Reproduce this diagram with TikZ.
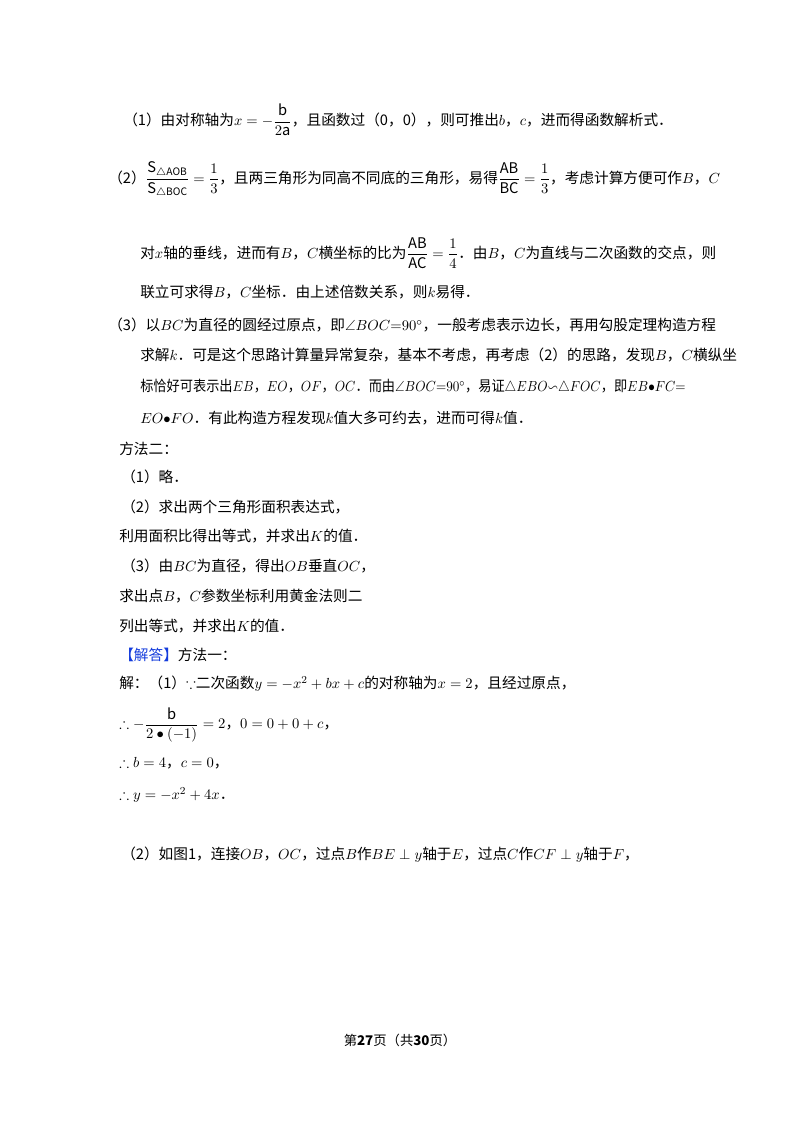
\documentclass[tikz,border=0pt]{standalone}
\usepackage{amsmath,amssymb,graphicx}
\usepackage{fontspec}
\setmainfont{Noto Sans CJK SC}
\definecolor{jblue}{RGB}{20,60,220}
\begin{document}
\begin{tikzpicture}[x=0.75pt,y=-0.75pt,
  ln/.style={anchor=west,inner sep=0pt,font=\fontsize{11}{13}\selectfont}]
\useasboundingbox (0,0) rectangle (800,1132);
\node[ln] (l1) at (123,120) {（1）由对称轴为$x=-\dfrac{\mathrm{b}}{2\mathrm{a}}$，且函数过（0，0），则可推出$b$，$c$，进而得函数解析式．};
\node[ln] (l2) at (108,180) {（2）$\dfrac{\mathrm{S}_{\triangle\mathrm{AOB}}}{\mathrm{S}_{\triangle\mathrm{BOC}}}=\dfrac{1}{3}$，且两三角形为同高不同底的三角形，易得$\dfrac{\mathrm{AB}}{\mathrm{BC}}=\dfrac{1}{3}$，考虑计算方便可作$B$，$C$};
\node[ln] (l3) at (140,253) {对$x$轴的垂线，进而有$B$，$C$横坐标的比为$\dfrac{\mathrm{AB}}{\mathrm{AC}}=\dfrac{1}{4}$．由$B$，$C$为直线与二次函数的交点，则};
\node[ln] (l4) at (140,292) {联立可求得$B$，$C$坐标．由上述倍数关系，则$k$易得．};
\node[ln] (l5) at (108,325) {（3）以$BC$为直径的圆经过原点，即$\angle BOC{=}90^\circ$，一般考虑表示边长，再用勾股定理构造方程};
\node[ln] (l6) at (140,355) {求解$k$．可是这个思路计算量异常复杂，基本不考虑，再考虑（2）的思路，发现$B$，$C$横纵坐};
\node[ln] (l7) at (140,387) {\scalebox{0.9}[1]{标恰好可表示出$EB$，$EO$，$OF$，$OC$．而由$\angle BOC{=}90^\circ$，易证$\triangle EBO{\backsim}\triangle FOC$，即$EB{\bullet}FC{=}$}};
\node[ln] (l8) at (140,418) {$EO{\bullet}FO$．有此构造方程发现$k$值大多可约去，进而可得$k$值．};
\node[ln] (l9) at (119,449) {方法二：};
\node[ln] (l10) at (121,477) {（1）略．};
\node[ln] (l11) at (121,507) {（2）求出两个三角形面积表达式，};
\node[ln] (l12) at (119,536) {利用面积比得出等式，并求出$K$的值．};
\node[ln] (l13) at (121,566) {（3）由$BC$为直径，得出$OB$垂直$OC$，};
\node[ln] (l14) at (119,596) {求出点$B$，$C$参数坐标利用黄金法则二};
\node[ln] (l15) at (119,626) {列出等式，并求出$K$的值．};
\node[ln] (l16) at (119,655) {\textcolor{jblue}{【解答】}方法一：};
\node[ln] (l17) at (119,684) {解：（1）$\because$二次函数$y=-x^2+bx+c$的对称轴为$x=2$，且经过原点，};
\node[ln] (l18) at (119,725) {$\therefore -\dfrac{\mathrm{b}}{2\bullet(-1)}=2$，$0=0+0+c$，};
\node[ln] (l19) at (119,763) {$\therefore b=4$，$c=0$，};
\node[ln] (l20) at (119,795) {$\therefore y=-x^2+4x$．};
\node[ln] (l21) at (121,855) {（2）如图1，连接$OB$，$OC$，过点$B$作$BE\perp y$轴于$E$，过点$C$作$CF\perp y$轴于$F$，};
\node[inner sep=0pt,font=\fontsize{10}{12}\selectfont] (ft) at (400,1040) {第\textbf{27}页（共\textbf{30}页）};
\end{tikzpicture}
\end{document}
